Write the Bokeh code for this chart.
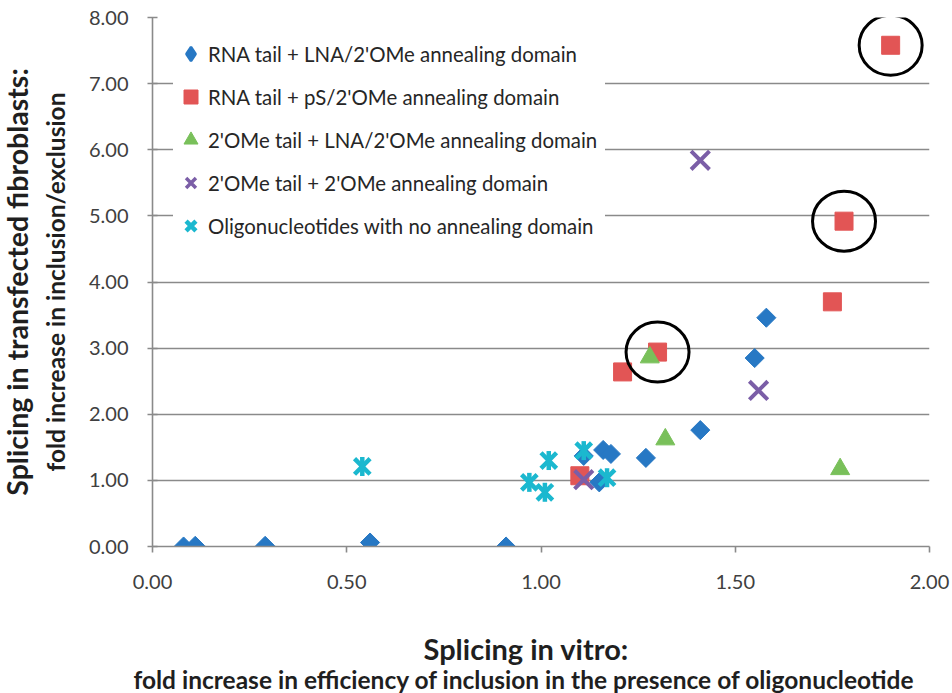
import math
from bokeh.plotting import figure
from bokeh.models import (Range1d, FixedTicker, NumeralTickFormatter, Legend, LegendItem,
                          Title)
from bokeh.embed import file_html
from bokeh.resources import INLINE

# ---------------- data ----------------
x_ticks = [0.0, 0.5, 1.0, 1.5, 2.0]
y_ticks = [0, 1, 2, 3, 4, 5, 6, 7, 8]

rna_lna_x = [0.08, 0.11, 0.29, 0.56, 0.91, 1.11, 1.16, 1.18, 1.15, 1.27, 1.41, 1.55, 1.58]
rna_lna_y = [0.00, 0.01, 0.01, 0.06, 0.00, 1.37, 1.46, 1.40, 0.97, 1.34, 1.76, 2.85, 3.46]

rna_ps_x = [1.10, 1.21, 1.30, 1.75, 1.78, 1.90]
rna_ps_y = [1.07, 2.64, 2.94, 3.70, 4.92, 7.58]

ome_lna_x = [1.28, 1.32, 1.77]
ome_lna_y = [2.86, 1.62, 1.17]

ome_ome_x = [1.11, 1.41, 1.56]
ome_ome_y = [1.01, 5.84, 2.36]

no_ann_x = [0.54, 0.97, 1.01, 1.02, 1.11, 1.17]
no_ann_y = [1.21, 0.97, 0.82, 1.30, 1.45, 1.04]

highlighted = [2, 4, 5]  # circled points of the pS series

labels = [
    "RNA tail + LNA/2'OMe annealing domain",
    "RNA tail + pS/2'OMe annealing domain",
    "2'OMe tail + LNA/2'OMe annealing domain",
    "2'OMe tail + 2'OMe annealing domain",
    "Oligonucleotides with no annealing domain",
]

x_title_1 = "Splicing in vitro:"
x_title_2 = "fold increase in efficiency of inclusion in the presence of oligonucleotide"
y_title_1 = "Splicing in transfected fibroblasts:"
y_title_2 = "fold increase in inclusion/exclusion"

FONT = "Lato"
BLUE = "#2778c4"
RED = "#e25555"
GREEN = "#79c05a"
PURPLE = "#7b5ea7"
CYAN = "#1bb8cf"
GRID = "#8a8a8a"
TITLE_C = "#1f1f1f"
NAN = float("nan")

p = figure(width=950, height=693, output_backend="svg", toolbar_location=None,
           x_range=Range1d(0, 2), y_range=Range1d(0, 8),
           min_border_left=152, min_border_right=21, min_border_top=17, min_border_bottom=147)
p.outline_line_color = None
p.background_fill_color = "white"
p.border_fill_color = "white"

p.xgrid.grid_line_color = None
p.ygrid.grid_line_color = GRID
p.ygrid.grid_line_width = 1.6
p.ygrid.ticker = FixedTicker(ticks=y_ticks)

for ax in (p.xaxis[0], p.yaxis[0]):
    ax.axis_line_color = GRID
    ax.axis_line_width = 1.6
    ax.major_tick_line_color = GRID
    ax.major_tick_line_width = 1.6
    ax.minor_tick_line_color = None
    ax.major_label_text_font = FONT
    ax.major_label_text_font_size = "20px"
    ax.major_label_text_color = "#404040"
    ax.formatter = NumeralTickFormatter(format="0.00")

p.xaxis.ticker = FixedTicker(ticks=x_ticks)
p.yaxis.ticker = FixedTicker(ticks=y_ticks)
p.xaxis.major_tick_in = 0
p.xaxis.major_tick_out = 6
p.yaxis.major_tick_in = 5
p.yaxis.major_tick_out = 5
p.xaxis.major_label_standoff = 22
p.yaxis.major_label_standoff = 19

# blank (non-breaking space) axis label: reserves the gap above the x titles
p.xaxis.axis_label = "\u00a0"
p.xaxis.axis_label_standoff = 23
p.xaxis.axis_label_text_font_size = "10px"

# y axis titles (two lines, left side)
t_y2 = Title(text=y_title_2, align="center", standoff=31,
             text_font=FONT, text_font_size="24.5px", text_font_style="bold", text_color=TITLE_C)
t_y1 = Title(text=y_title_1, align="center", standoff=-21,
             text_font=FONT, text_font_size="28.5px", text_font_style="bold", text_color=TITLE_C)
p.add_layout(t_y2, "left")
p.add_layout(t_y1, "left")

# x axis titles: two left-anchored titles below the axis
t_x1 = Title(text=x_title_1, align="left", offset=271, standoff=0,
             text_font=FONT, text_font_size="29px", text_font_style="bold", text_color=TITLE_C)
t_x2 = Title(text=x_title_2, align="left", offset=-19, standoff=-6,
             text_font=FONT, text_font_size="24.5px", text_font_style="bold", text_color=TITLE_C)
p.add_layout(t_x1, "below")
p.add_layout(t_x2, "below")

# series
r_blue = p.scatter(rna_lna_x, rna_lna_y, marker="square", angle=math.pi / 4, size=13.5,
                   fill_color=BLUE, line_color=BLUE, line_width=1)
r_red = p.scatter(rna_ps_x, rna_ps_y, marker="square", size=18,
                  fill_color=RED, line_color=RED, line_width=1)
r_green = p.scatter(ome_lna_x, ome_lna_y, marker="triangle", size=19,
                    fill_color=GREEN, line_color=GREEN, line_width=1)
r_purple = p.scatter(ome_ome_x, ome_ome_y, marker="x", size=26,
                     line_color=PURPLE, line_width=4)
r_cyan1 = p.scatter(no_ann_x, no_ann_y, marker="x", size=22,
                    line_color=CYAN, line_width=4.5)
r_cyan2 = p.scatter(no_ann_x, no_ann_y, marker="dash", angle=math.pi / 2, size=19,
                    line_color=CYAN, line_width=4.5)

# highlight circles around three pS points
hx = [rna_ps_x[i] for i in highlighted]
hy = [rna_ps_y[i] for i in highlighted]
p.ellipse(hx, hy, width=63, height=60, width_units="screen", height_units="screen",
          fill_color=None, line_color="black", line_width=3)

# legend proxies (NaN position: never drawn in the plot, only in the legend)
lg_blue = p.scatter([NAN], [NAN], marker="diamond", fill_color=BLUE, line_color=BLUE, line_width=2.5)
lg_red = p.scatter([NAN], [NAN], marker="square", fill_color=RED, line_color=RED, line_width=1)
lg_green = p.scatter([NAN], [NAN], marker="triangle", fill_color=GREEN, line_color=GREEN, line_width=1)
lg_purple = p.scatter([NAN], [NAN], marker="x", line_color=PURPLE, line_width=3.5)
lg_cyan = p.scatter([NAN], [NAN], marker="x", line_color=CYAN, line_width=4.5)

legend = Legend(items=[
    LegendItem(label=labels[0], renderers=[lg_blue]),
    LegendItem(label=labels[1], renderers=[lg_red]),
    LegendItem(label=labels[2], renderers=[lg_green]),
    LegendItem(label=labels[3], renderers=[lg_purple]),
    LegendItem(label=labels[4], renderers=[lg_cyan]),
], location=(21, 303))
legend.margin = 0
legend.padding = 8
legend.glyph_width = 35
legend.glyph_height = 35
legend.label_height = 20
legend.label_width = 397
legend.spacing = 8
legend.label_standoff = -11
legend.border_line_color = None
legend.background_fill_color = "white"
legend.background_fill_alpha = 1.0
legend.label_text_font = FONT
legend.label_text_font_size = "20.4px"
legend.label_text_color = "#262626"
p.add_layout(legend, "center")

open("out.html", "w").write(file_html(p, INLINE))
